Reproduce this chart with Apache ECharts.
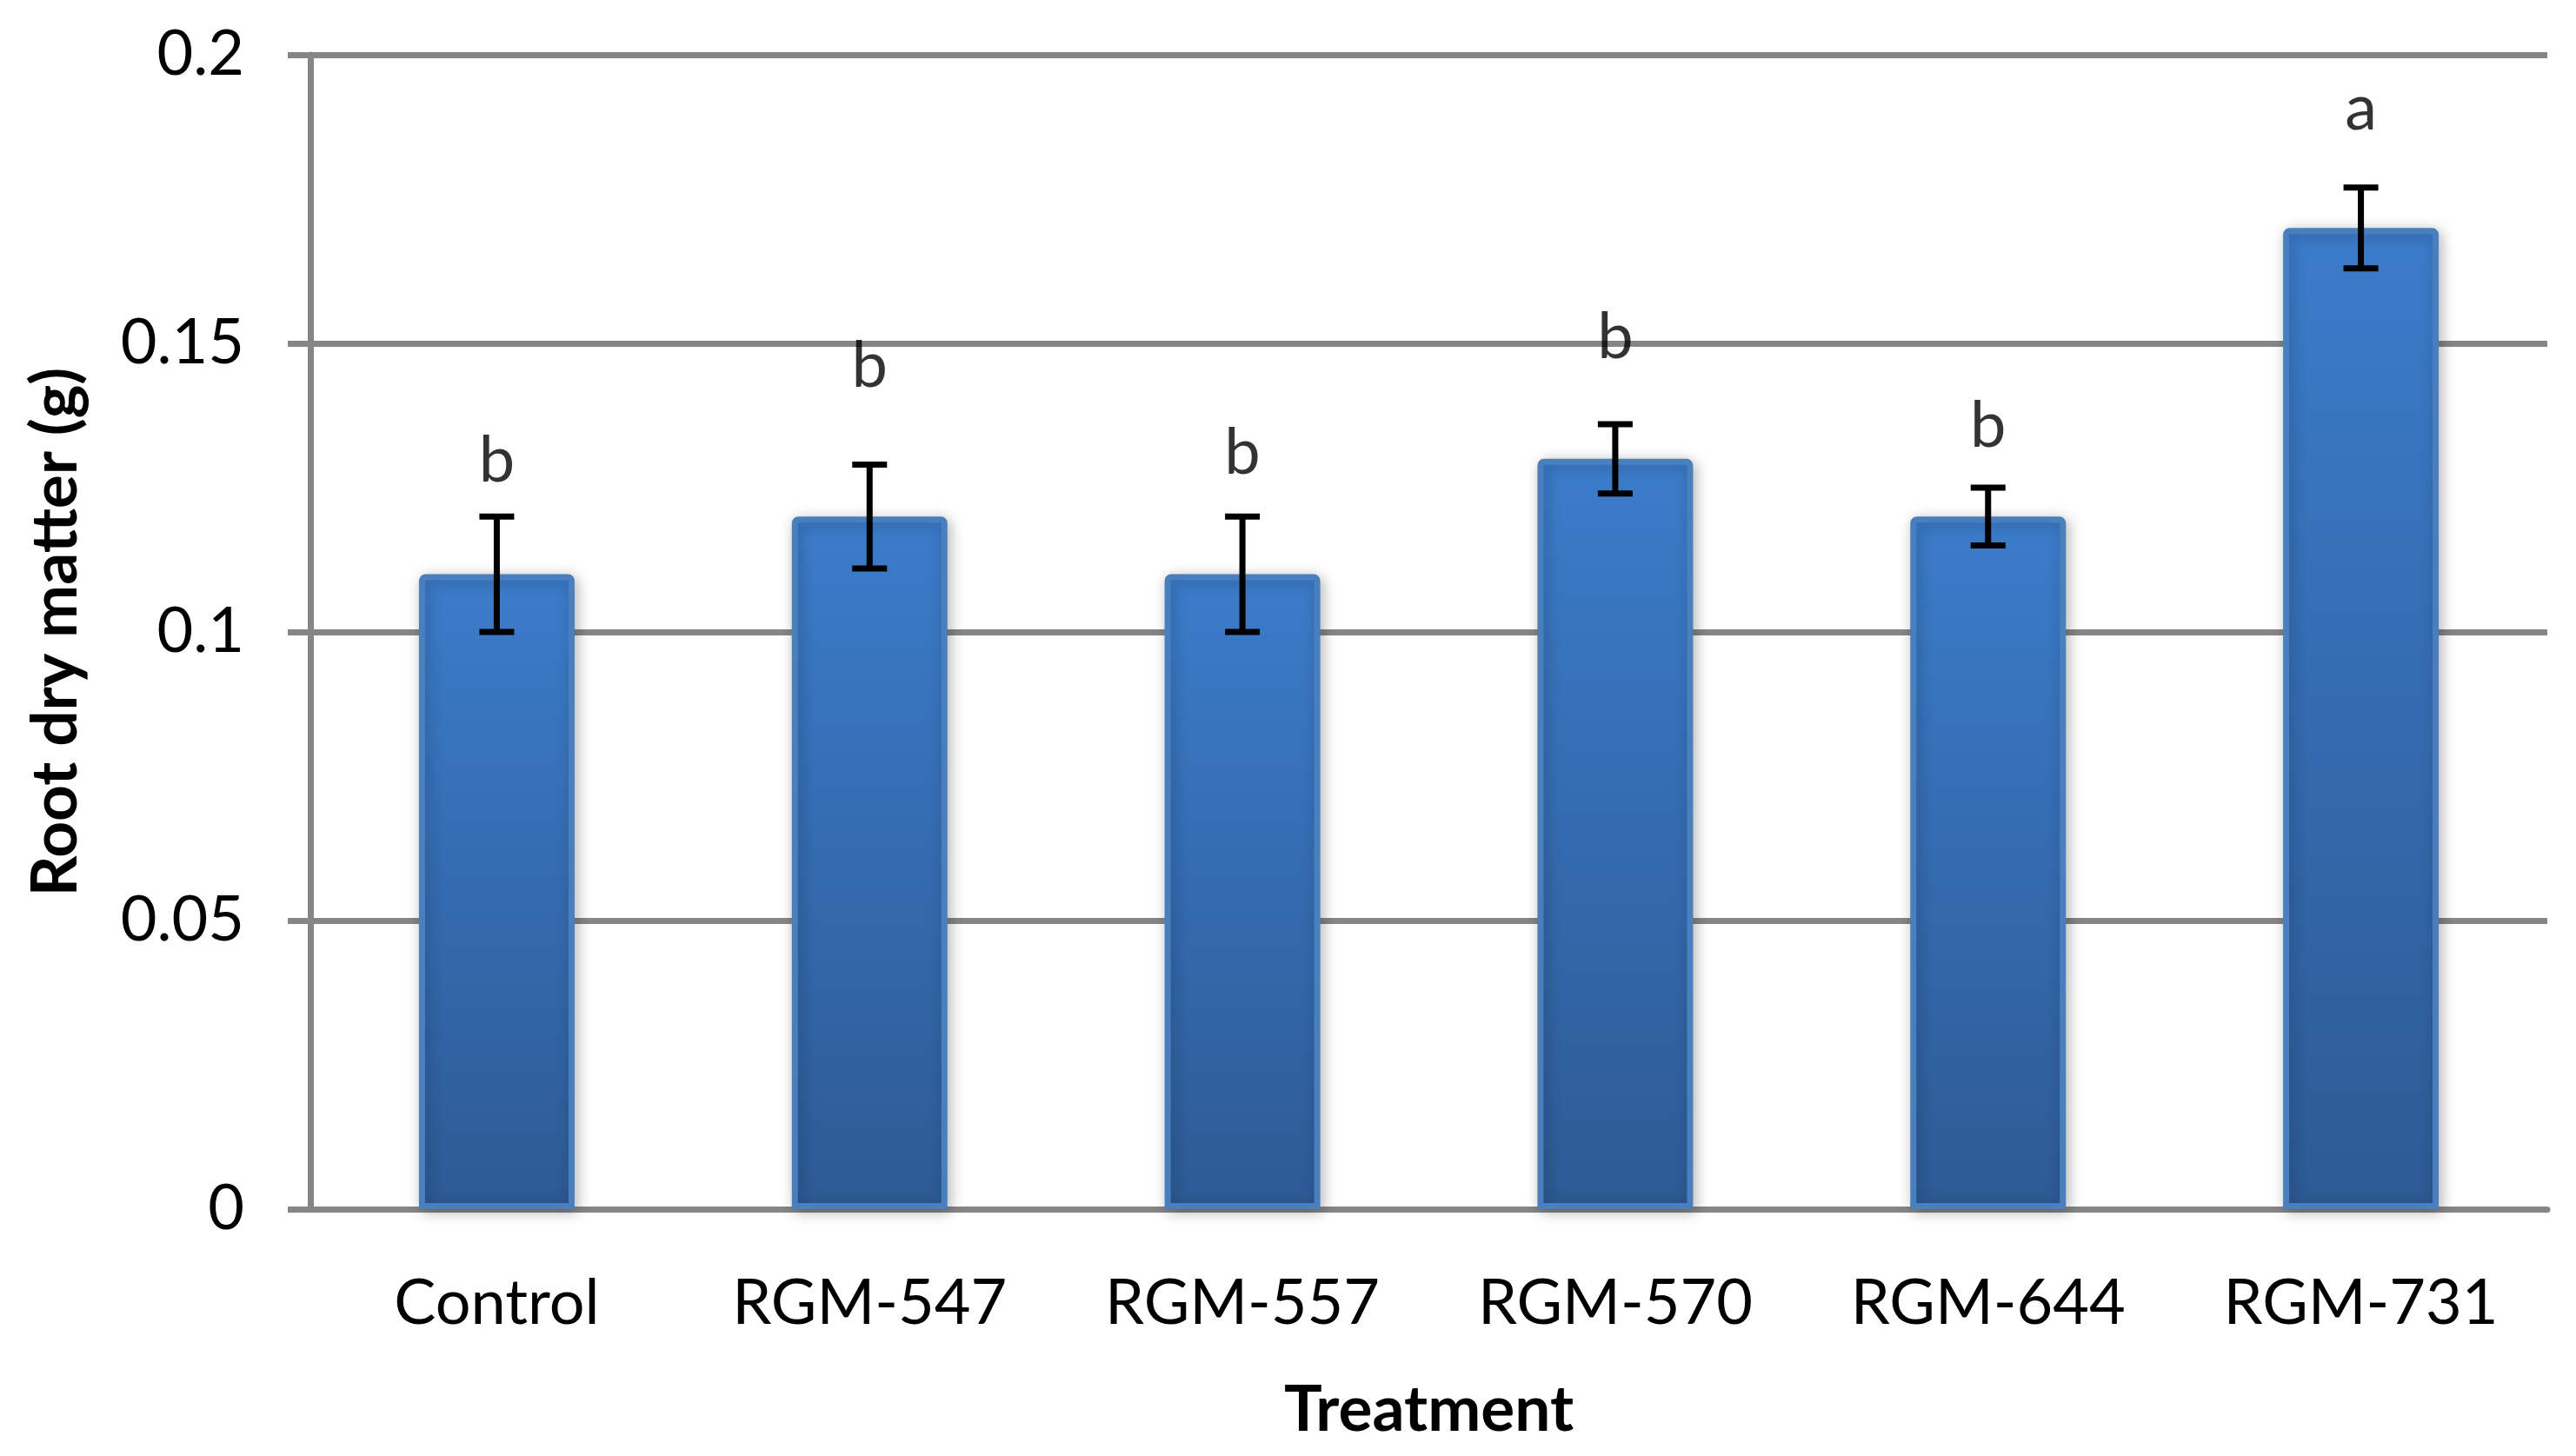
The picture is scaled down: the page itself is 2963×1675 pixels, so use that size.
<!DOCTYPE html>
<html>
<head>
<meta charset="utf-8">
<script src="https://cdn.jsdelivr.net/npm/echarts@6/dist/echarts.min.js"></script>
<style>
  html, body { margin: 0; padding: 0; background: #fff; }
  #main { width: 2963px; height: 1675px; }
</style>
</head>
<body>
<div id="main"></div>
<script>
// Data
const treatments = ['Control', 'RGM-547', 'RGM-557', 'RGM-570', 'RGM-644', 'RGM-731']
const rootDryMatter = [0.11, 0.12, 0.11, 0.13, 0.12, 0.17]
const errors = [0.01, 0.009, 0.01, 0.006, 0.005, 0.007]
const letters = ['b', 'b', 'b', 'b', 'b', 'a']
const letterY = [0.1297, 0.146, 0.131, 0.151, 0.1357, 0.1906]
const yTicks = [0, 0.05, 0.1, 0.15, 0.2]

const gray = '#868686'
const font = 'Lato, "Open Sans", sans-serif'

var myChart = echarts.init(document.getElementById('main'))

const option = {
  animation: false,
  backgroundColor: '#fff',
  grid: { left: 357, right: 33, top: 63, bottom: 284 },
  xAxis: {
    type: 'category',
    data: treatments,
    name: 'Treatment',
    nameLocation: 'middle',
    nameGap: 195,
    nameTextStyle: { fontFamily: font, fontWeight: 'bold', fontSize: 73, color: '#000' },
    axisLine: { lineStyle: { color: gray, width: 7 } },
    axisTick: { length: 26, lineStyle: { color: gray, width: 7 } },
    axisLabel: { margin: 73, fontFamily: font, fontSize: 72, color: '#000' }
  },
  yAxis: {
    type: 'value',
    min: 0,
    max: 0.2,
    interval: 0.05,
    name: 'Root dry matter (g)',
    nameLocation: 'middle',
    nameGap: 256,
    nameTextStyle: { fontFamily: font, fontWeight: 'bold', fontSize: 73, color: '#000' },
    axisLine: { show: true, lineStyle: { color: gray, width: 7 } },
    axisTick: { show: true, length: 26, lineStyle: { color: gray, width: 7 } },
    splitLine: { lineStyle: { color: gray, width: 7 } },
    axisLabel: {
      margin: 76, fontFamily: font, fontSize: 72, color: '#000',
      formatter: v => {
        const t = yTicks.find(k => Math.abs(k - v) < 1e-9)
        return t === undefined ? '' : String(t)
      }
    }
  },
  series: [
    {
      type: 'bar',
      data: rootDryMatter,
      barWidth: 179,
      itemStyle: {
        color: new echarts.graphic.LinearGradient(0, 0, 0, 1, [
          { offset: 0, color: '#3B7CCA' },
          { offset: 1, color: '#2D5A94' }
        ]),
        borderColor: '#4A7FBE',
        borderWidth: 7,
        borderRadius: [4, 4, 0, 0],
        shadowColor: 'rgba(0,0,0,0.25)',
        shadowBlur: 16,
        shadowOffsetX: 3,
        shadowOffsetY: 3
      },
      z: 2
    },
    {
      // error bars
      type: 'custom',
      data: rootDryMatter.map((v, i) => [i, v - errors[i], v + errors[i]]),
      renderItem: (params, api) => {
        const lo = api.coord([api.value(0), api.value(1)])
        const hi = api.coord([api.value(0), api.value(2)])
        const half = 20
        const style = { stroke: '#000', lineWidth: 7 }
        return {
          type: 'group',
          children: [
            { type: 'line', shape: { x1: hi[0], y1: hi[1], x2: lo[0], y2: lo[1] }, style },
            { type: 'line', shape: { x1: hi[0] - half, y1: hi[1], x2: hi[0] + half, y2: hi[1] }, style },
            { type: 'line', shape: { x1: lo[0] - half, y1: lo[1], x2: lo[0] + half, y2: lo[1] }, style }
          ]
        }
      },
      z: 5
    },
    {
      // significance letters
      type: 'scatter',
      symbolSize: 0,
      data: letterY.map((y, i) => ({ value: [i, y], name: letters[i] })),
      label: {
        show: true,
        position: 'inside',
        formatter: p => p.name,
        fontFamily: font,
        fontSize: 74,
        color: '#000'
      },
      z: 6
    }
  ]
}

myChart.setOption(option)
</script>
</body>
</html>
